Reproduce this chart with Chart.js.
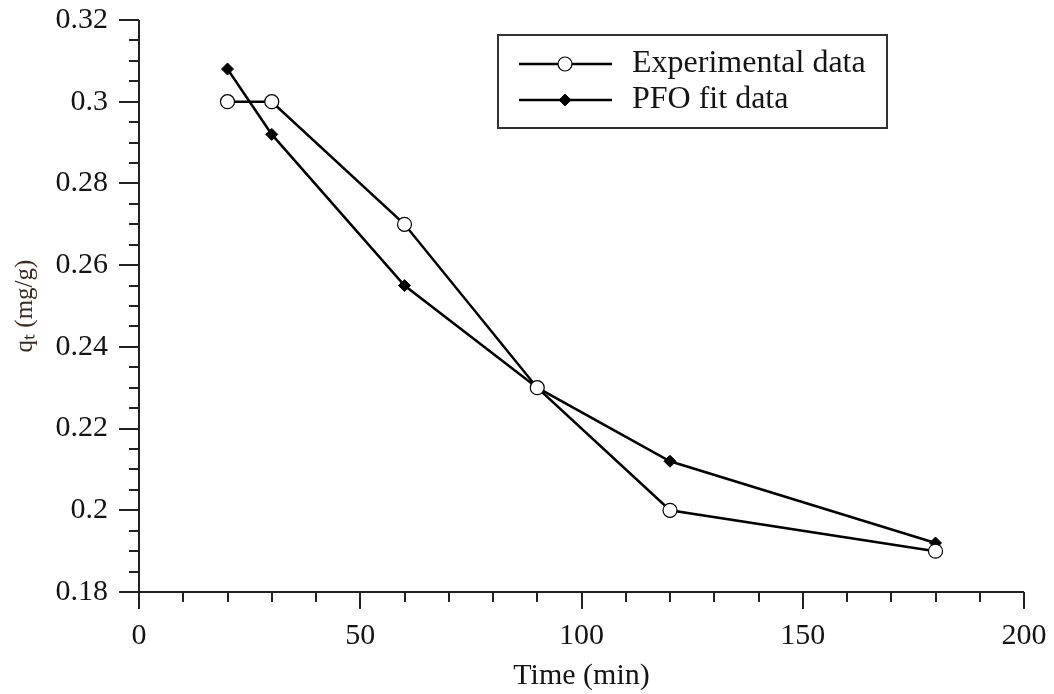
<html lang="en">

<head>
    <meta charset="UTF-8">
    <title>Kinetics - PFO fit</title>
    <script src="https://cdn.jsdelivr.net/npm/chart.js"></script>
    <style>
        body { margin: 0; background: #fff; }
        #wrap { width: 1054px; height: 694px; }
    </style>
</head>

<body>
    <div id="wrap"><canvas id="kinChart"></canvas></div>

    <script>
        // data
        const timeMin = [20, 30, 60, 90, 120, 180];
        const expData = [0.300, 0.300, 0.270, 0.230, 0.200, 0.190];
        const pfoData = [0.308, 0.292, 0.255, 0.230, 0.212, 0.192];
        const seriesNames = ['Experimental data', 'PFO fit data'];
        const xTicks = [0, 50, 100, 150, 200];
        const yTicks = [0.18, 0.2, 0.22, 0.24, 0.26, 0.28, 0.3, 0.32];

        const serif = "'Liberation Serif', 'Times New Roman', serif";
        const ink = '#141414';

        // axis lines plus major/minor tick marks (drawn from the scales)
        const axisPlugin = {
            id: 'axisPlugin',
            afterDraw(chart) {
                const { ctx, chartArea: a } = chart;
                const xs = chart.scales.x, ys = chart.scales.y;
                ctx.save();
                ctx.strokeStyle = '#222';
                ctx.lineWidth = 2;
                ctx.beginPath();
                ctx.moveTo(a.left, a.top);
                ctx.lineTo(a.left, a.bottom);
                ctx.lineTo(a.right, a.bottom);
                ctx.stroke();

                ctx.beginPath();
                for (let v = 0; v <= 200.001; v += 10) {
                    const px = Math.round(xs.getPixelForValue(v));
                    const len = (Math.round(v) % 50 === 0) ? 17 : 10;
                    ctx.moveTo(px, a.bottom);
                    ctx.lineTo(px, a.bottom + len);
                }
                for (let i = 0; i <= 28; i++) {
                    const v = 0.18 + i * 0.005;
                    const py = Math.round(ys.getPixelForValue(v));
                    const len = (i % 4 === 0) ? 20 : 10;
                    ctx.moveTo(a.left - len, py);
                    ctx.lineTo(a.left, py);
                }
                ctx.stroke();
                ctx.restore();
            }
        };

        // boxed legend inside the plot
        const boxLegend = {
            id: 'boxLegend',
            afterDraw(chart) {
                const ctx = chart.ctx;
                const h = Chart.helpers;
                ctx.save();
                ctx.strokeStyle = '#333';
                ctx.lineWidth = 2;
                ctx.strokeRect(498, 35, 389, 93);
                ctx.font = '32px ' + serif;
                ctx.textBaseline = 'middle';
                chart.data.datasets.forEach((ds, i) => {
                    const y = 64 + i * 36;
                    ctx.strokeStyle = '#000';
                    ctx.lineWidth = 2.5;
                    ctx.beginPath();
                    ctx.moveTo(519, y);
                    ctx.lineTo(612, y);
                    ctx.stroke();
                    ctx.fillStyle = ds.pointBackgroundColor;
                    ctx.strokeStyle = '#000';
                    ctx.lineWidth = ds.pointBorderWidth;
                    h.drawPoint(ctx, {
                        pointStyle: ds.pointStyle,
                        radius: ds.pointRadius,
                        borderWidth: ds.pointBorderWidth,
                        rotation: 0
                    }, 565, y);
                    ctx.fillStyle = ink;
                    ctx.fillText(ds.label, 632, y);
                });
                ctx.restore();
            }
        };

        const ctx = document.getElementById('kinChart').getContext('2d');
        new Chart(ctx, {
            type: 'line',
            data: {
                datasets: [
                    {
                        label: seriesNames[0],
                        data: timeMin.map((t, i) => ({ x: t, y: expData[i] })),
                        borderColor: '#000',
                        borderWidth: 2.5,
                        pointStyle: 'circle',
                        pointRadius: 7,
                        pointBorderWidth: 1.2,
                        pointBackgroundColor: '#fff',
                        pointBorderColor: '#000',
                        tension: 0
                    },
                    {
                        label: seriesNames[1],
                        data: timeMin.map((t, i) => ({ x: t, y: pfoData[i] })),
                        borderColor: '#000',
                        borderWidth: 2.5,
                        pointStyle: 'rectRot',
                        pointRadius: 6,
                        pointBorderWidth: 1,
                        pointBackgroundColor: '#000',
                        pointBorderColor: '#000',
                        tension: 0
                    }
                ]
            },
            options: {
                responsive: true,
                maintainAspectRatio: false,
                animation: false,
                layout: { padding: { top: 20, right: 30, left: 0, bottom: 0 } },
                plugins: {
                    legend: { display: false },
                    tooltip: { enabled: false }
                },
                scales: {
                    x: {
                        type: 'linear',
                        min: 0,
                        max: 200,
                        afterFit: s => {
                            s.height = 102;
                            s.paddingLeft = 0;
                            s.paddingRight = 0;
                        },
                        afterBuildTicks: s => { s.ticks = xTicks.map(v => ({ value: v })); },
                        grid: { display: false, drawTicks: false },
                        border: { display: false },
                        ticks: {
                            padding: 26,
                            color: ink,
                            font: { family: serif, size: 30 },
                            maxRotation: 0
                        },
                        title: {
                            display: true,
                            text: 'Time (min)',
                            color: ink,
                            font: { family: serif, size: 30 },
                            padding: { top: 0, bottom: 0 }
                        }
                    },
                    y: {
                        type: 'linear',
                        min: 0.18,
                        max: 0.32,
                        afterFit: s => {
                            s.width = 139;
                            s.paddingTop = 0;
                            s.paddingBottom = 0;
                        },
                        afterBuildTicks: s => { s.ticks = yTicks.map(v => ({ value: v })); },
                        grid: { display: false, drawTicks: false },
                        border: { display: false },
                        ticks: {
                            padding: 31,
                            color: ink,
                            font: { family: serif, size: 30 },
                            callback: v => String(+v.toFixed(2))
                        },
                        title: {
                            display: true,
                            text: 'qₜ (mg/g)',
                            color: '#3a2a22',
                            font: { family: serif, size: 25 },
                            padding: { top: 10, bottom: 0 }
                        }
                    }
                }
            },
            plugins: [axisPlugin, boxLegend]
        });
    </script>
</body>

</html>
